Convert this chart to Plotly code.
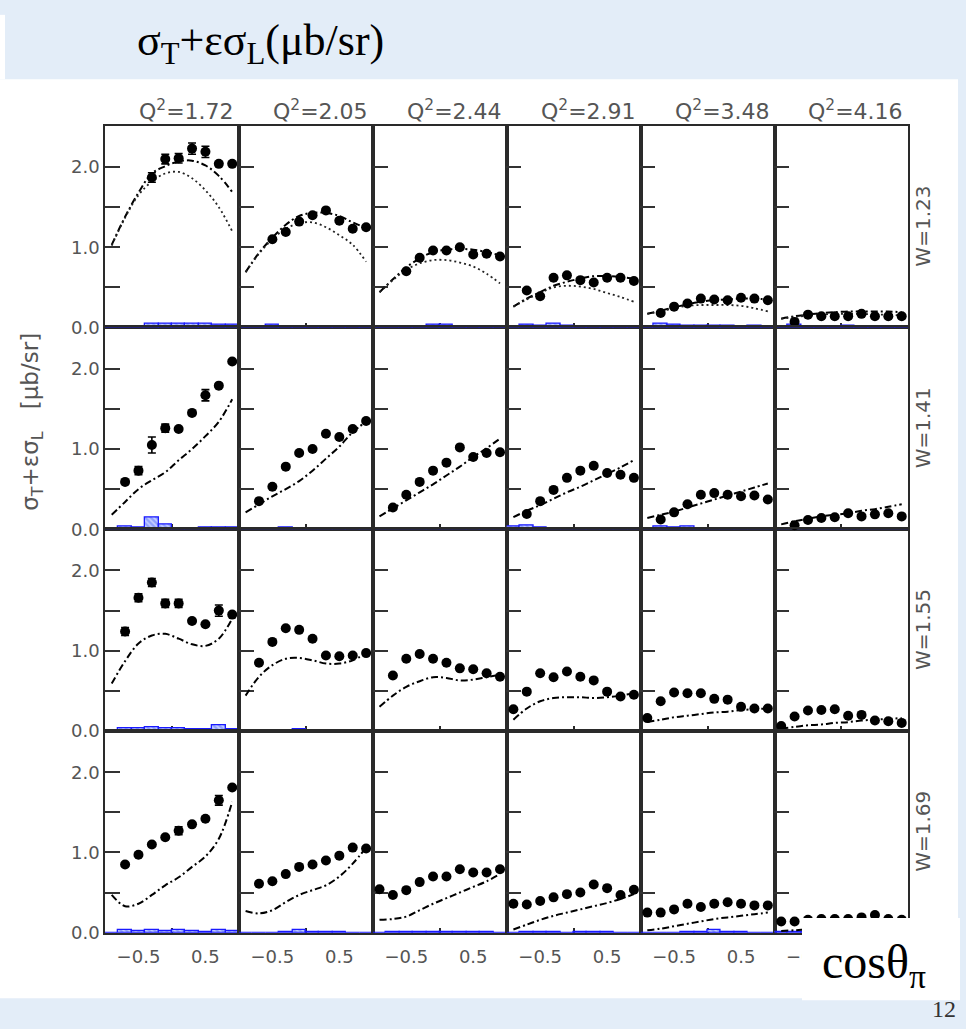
import plotly.graph_objects as go
from plotly.subplots import make_subplots

# ---------------- data ----------------
Q2_LABELS = ["1.72", "2.05", "2.44", "2.91", "3.48", "4.16"]
W_LABELS = ["1.23", "1.41", "1.55", "1.69"]
COS_BINS = [-0.9, -0.7, -0.5, -0.3, -0.1, 0.1, 0.3, 0.5, 0.7, 0.9]
N = None

# W = 1.23
pts_w123 = [
    [N, N, N, 1.87, 2.10, 2.11, 2.23, 2.19, 2.04, 2.04],
    [N, N, 1.10, 1.19, 1.32, 1.40, 1.46, 1.33, 1.23, 1.25],
    [N, N, 0.70, 0.87, 0.96, 0.96, 1.00, 0.91, 0.92, 0.885],
    [N, 0.46, 0.39, 0.62, 0.65, 0.59, 0.56, 0.62, 0.62, 0.58],
    [N, 0.18, 0.26, 0.30, 0.36, 0.35, 0.34, 0.37, 0.36, 0.34],
    [N, 0.07, 0.16, 0.14, 0.14, 0.14, 0.17, 0.14, 0.14, 0.14],
]
err_w123 = [
    [0, 0, 0, 0.06, 0.06, 0.06, 0.07, 0.07, 0, 0],
    [0] * 10, [0] * 10, [0] * 10, [0] * 10, [0] * 10,
]
modelA_w123 = [
    [1.03, 1.38, 1.68, 1.92, 2.01, 2.07, 2.08, 2.02, 1.89, 1.69],
    [0.69, 0.93, 1.12, 1.28, 1.39, 1.43, 1.43, 1.39, 1.31, 1.24],
    [0.44, 0.60, 0.75, 0.86, 0.94, 0.97, 0.98, 0.97, 0.94, 0.90],
    [0.26, 0.36, 0.44, 0.52, 0.57, 0.61, 0.64, 0.64, 0.63, 0.61],
    [0.17, 0.21, 0.25, 0.29, 0.32, 0.34, 0.35, 0.36, 0.36, 0.35],
    [0.11, 0.14, 0.16, 0.18, 0.19, 0.20, 0.20, 0.20, 0.20, 0.19],
]
modelB_w123 = [
    [1.02, 1.37, 1.65, 1.82, 1.92, 1.94, 1.86, 1.71, 1.50, 1.20],
    [0.69, 0.92, 1.10, 1.23, 1.30, 1.31, 1.25, 1.15, 1.03, 0.82],
    [0.44, 0.59, 0.72, 0.80, 0.84, 0.84, 0.81, 0.76, 0.67, 0.55],
    [0.26, 0.35, 0.43, 0.50, 0.52, 0.51, 0.48, 0.43, 0.38, 0.32],
    [0.17, 0.20, 0.24, 0.27, 0.28, 0.28, 0.28, 0.27, 0.24, 0.20],
    [0.11, 0.13, 0.15, 0.16, 0.17, 0.17, 0.17, 0.16, 0.16, 0.15],
]
sys_w123 = [
    [0, 0, 0, 0.05, 0.05, 0.05, 0.05, 0.05, 0.04, 0.04],
    [0, 0, 0.04, 0.01, 0.01, 0.01, 0.01, 0.01, 0.01, 0.01],
    [0, 0, 0.01, 0.01, 0.03, 0.03, 0.01, 0.01, 0.01, 0.01],
    [0, 0.04, 0.02, 0.05, 0.02, 0.01, 0.01, 0.01, 0.01, 0.01],
    [0, 0.05, 0.04, 0.02, 0.02, 0.02, 0.02, 0.01, 0.02, 0.01],
    [0, 0.03, 0.01, 0.01, 0.01, 0.02, 0.01, 0.01, 0.01, 0.01],
]

# W = 1.41
pts_w141 = [
    [N, 0.59, 0.73, 1.05, 1.26, 1.25, 1.45, 1.67, 1.79, 2.09],
    [N, 0.35, 0.53, 0.78, 0.95, 1.00, 1.19, 1.15, 1.25, 1.35],
    [N, 0.27, 0.43, 0.59, 0.73, 0.83, 1.02, 0.90, 0.95, 0.96],
    [N, 0.19, 0.35, 0.49, 0.64, 0.73, 0.79, 0.70, 0.68, 0.64],
    [N, 0.12, 0.21, 0.31, 0.43, 0.45, 0.43, 0.41, 0.42, 0.37],
    [N, 0.05, 0.115, 0.14, 0.15, 0.20, 0.16, 0.185, 0.20, 0.16],
]
err_w141 = [
    [0, 0, 0.05, 0.10, 0.05, 0, 0, 0.07, 0, 0],
    [0] * 10, [0] * 10, [0] * 10, [0] * 10, [0] * 10,
]
modelA_w141 = [
    [0.18, 0.34, 0.50, 0.61, 0.71, 0.86, 1.00, 1.16, 1.34, 1.62],
    [0.21, 0.31, 0.41, 0.50, 0.60, 0.73, 0.88, 1.03, 1.21, 1.34],
    [0.16, 0.26, 0.36, 0.46, 0.56, 0.67, 0.78, 0.90, 1.01, 1.13],
    [0.15, 0.23, 0.30, 0.38, 0.46, 0.53, 0.61, 0.69, 0.77, 0.86],
    [0.14, 0.18, 0.22, 0.27, 0.32, 0.37, 0.42, 0.47, 0.52, 0.57],
    [0.06, 0.10, 0.13, 0.16, 0.18, 0.20, 0.23, 0.25, 0.28, 0.31],
]
sys_w141 = [
    [0, 0.04, 0.02, 0.14, 0.06, 0.01, 0.01, 0.02, 0.02, 0.02],
    [0, 0, 0, 0.02, 0.01, 0, 0.01, 0.01, 0.01, 0.01],
    [0.01, 0, 0, 0.01, 0.01, 0.01, 0.01, 0.01, 0.01, 0.01],
    [0.03, 0.05, 0.02, 0.01, 0, 0.01, 0.01, 0.01, 0.01, 0],
    [0, 0.04, 0.02, 0.04, 0.01, 0, 0.01, 0.01, 0, 0],
    [0, 0.01, 0, 0.01, 0.01, 0.01, 0.01, 0, 0, 0],
]

# W = 1.55
pts_w155 = [
    [N, 1.24, 1.66, 1.85, 1.59, 1.59, 1.37, 1.33, 1.50, 1.45],
    [N, 0.85, 1.11, 1.28, 1.26, 1.15, 0.94, 0.93, 0.94, 0.97],
    [N, 0.69, 0.90, 0.96, 0.90, 0.85, 0.78, 0.77, 0.72, 0.675],
    [0.27, 0.49, 0.72, 0.67, 0.74, 0.675, 0.63, 0.49, 0.43, 0.45],
    [0.16, 0.37, 0.48, 0.47, 0.47, 0.40, 0.39, 0.30, 0.28, 0.28],
    [0.06, 0.18, 0.255, 0.26, 0.27, 0.19, 0.20, 0.13, 0.12, 0.10],
]
err_w155 = [
    [0, 0.05, 0.05, 0.05, 0.05, 0.05, 0, 0, 0.07, 0],
    [0] * 10, [0] * 10, [0] * 10, [0] * 10, [0] * 10,
]
modelA_w155 = [
    [0.59, 0.87, 1.09, 1.19, 1.21, 1.15, 1.08, 1.06, 1.15, 1.40],
    [0.44, 0.675, 0.82, 0.90, 0.91, 0.88, 0.84, 0.84, 0.88, 0.97],
    [0.30, 0.44, 0.55, 0.62, 0.67, 0.66, 0.63, 0.64, 0.67, 0.70],
    [0.14, 0.28, 0.37, 0.41, 0.42, 0.42, 0.41, 0.42, 0.44, 0.47],
    [0.11, 0.14, 0.17, 0.19, 0.21, 0.23, 0.24, 0.26, 0.27, 0.28],
    [0.03, 0.05, 0.07, 0.08, 0.10, 0.11, 0.13, 0.14, 0.15, 0.16],
]
sys_w155 = [
    [0, 0.03, 0.04, 0.05, 0.04, 0.04, 0.02, 0.02, 0.07, 0.02],
    [0, 0.01, 0.01, 0.01, 0.02, 0.01, 0.01, 0.01, 0, 0],
    [0, 0.01, 0.01, 0.01, 0.01, 0.01, 0.01, 0.01, 0.01, 0.01],
    [0.01, 0.01, 0.01, 0.01, 0.01, 0.01, 0.01, 0.01, 0.01, 0.01],
    [0.01, 0.01, 0.01, 0.01, 0.01, 0.01, 0.01, 0.01, 0.01, 0.01],
    [0.01, 0.01, 0.01, 0.01, 0.01, 0.01, 0.01, 0.01, 0.01, 0.01],
]

# W = 1.69
pts_w169 = [
    [N, 0.85, 0.97, 1.10, 1.19, 1.27, 1.35, 1.42, 1.65, 1.81],
    [N, 0.61, 0.64, 0.73, 0.82, 0.85, 0.90, 0.96, 1.06, 1.05],
    [0.54, 0.47, 0.53, 0.63, 0.70, 0.70, 0.79, 0.75, 0.75, 0.79],
    [0.36, 0.35, 0.395, 0.44, 0.48, 0.50, 0.60, 0.555, 0.47, 0.535],
    [0.25, 0.25, 0.29, 0.36, 0.32, 0.36, 0.38, 0.36, 0.34, 0.34],
    [0.14, 0.14, 0.16, 0.17, 0.17, 0.17, 0.19, 0.22, 0.17, 0.16],
]
err_w169 = [
    [0, 0, 0, 0, 0, 0.05, 0, 0, 0.06, 0],
    [0] * 10, [0] * 10, [0] * 10, [0] * 10, [0] * 10,
]
modelA_w169 = [
    [0.47, 0.33, 0.36, 0.47, 0.59, 0.69, 0.82, 0.95, 1.17, 1.63],
    [0.27, 0.24, 0.28, 0.38, 0.47, 0.53, 0.59, 0.70, 0.86, 1.06],
    [0.16, 0.17, 0.20, 0.28, 0.36, 0.43, 0.50, 0.57, 0.64, 0.73],
    [0.04, 0.10, 0.16, 0.21, 0.25, 0.29, 0.33, 0.37, 0.42, 0.48],
    [0.03, 0.05, 0.08, 0.11, 0.14, 0.17, 0.19, 0.21, 0.23, 0.25],
    [0.02, 0.03, 0.04, 0.05, 0.06, 0.07, 0.08, 0.09, 0.10, 0.11],
]
sys_w169 = [
    [0, 0.03, 0.02, 0.03, 0.02, 0.03, 0.02, 0.01, 0.04, 0.02],
    [0, 0, 0, 0.01, 0.03, 0.01, 0.01, 0.01, 0, 0],
    [0, 0.01, 0.01, 0.01, 0.01, 0.01, 0.01, 0.01, 0.01, 0],
    [0, 0.01, 0.01, 0.01, 0, 0.01, 0.01, 0.01, 0, 0],
    [0, 0, 0, 0.01, 0.01, 0.03, 0.01, 0.01, 0, 0],
    [0.01, 0.01, 0.01, 0.01, 0.01, 0.01, 0.01, 0.01, 0.01, 0.01],
]

ROWS = [
    (pts_w123, err_w123, modelA_w123, modelB_w123, sys_w123),
    (pts_w141, err_w141, modelA_w141, None, sys_w141),
    (pts_w155, err_w155, modelA_w155, None, sys_w155),
    (pts_w169, err_w169, modelA_w169, None, sys_w169),
]

# ---------------- layout geometry ----------------
FW, FH = 966, 1029
X0, CW = 105.0, 133.9
Y0, RH = 127.0, 203.7
YMAX = RH / 81.0
FRAME = "#2a2a2a"
LABEL = "#555555"
BG = "#e3edf8"

fig = make_subplots(rows=4, cols=6, horizontal_spacing=0, vertical_spacing=0)

for r, (pts, errs, mA, mB, sysv) in enumerate(ROWS):
    for c in range(6):
        R, C = r + 1, c + 1
        fig.add_trace(go.Bar(
            x=COS_BINS, y=sysv[c], width=0.2, base=0,
            marker=dict(color="#8fa0ff", line=dict(color="#1a1aff", width=1.3),
                        pattern=dict(shape="\\", fgcolor="white", size=4, solidity=0.4)),
            showlegend=False, hoverinfo="skip"), row=R, col=C)
        fig.add_trace(go.Scatter(
            x=COS_BINS, y=mA[c], mode="lines", line=dict(color="black", width=2,
            dash="7px,3px,2px,3px", shape="spline"),
            showlegend=False, cliponaxis=False), row=R, col=C)
        if mB is not None:
            fig.add_trace(go.Scatter(
                x=COS_BINS, y=mB[c], mode="lines", line=dict(color="#222", width=1.8,
                dash="2px,3px", shape="spline"),
                showlegend=False, cliponaxis=False), row=R, col=C)
        e = [v if v else None for v in errs[c]]
        fig.add_trace(go.Scatter(
            x=COS_BINS, y=pts[c], mode="markers",
            marker=dict(color="black", size=10),
            error_y=dict(type="data", array=e, visible=True, color="black",
                         thickness=1.6, width=4),
            showlegend=False, cliponaxis=False), row=R, col=C)

        fig.update_xaxes(
            row=R, col=C,
            domain=[(X0 + c * CW) / FW, (X0 + (c + 1) * CW) / FW],
            range=[-1, 1], showgrid=False, zeroline=False,
            showline=True, mirror=True, linecolor=FRAME, linewidth=1.5,
            tickvals=[-0.5, 0.5], ticktext=["−0.5", "0.5"], ticks="",
            showticklabels=(r == 3), ticklabelstandoff=7,
            tickfont=dict(family="DejaVu Sans", size=18, color=LABEL),
            minor=dict(tickvals=[0], ticks="inside", ticklen=5, tickcolor=FRAME, tickwidth=1.5),
            layer="below traces")
        fig.update_yaxes(
            row=R, col=C,
            domain=[1 - (Y0 + (r + 1) * RH) / FH, 1 - (Y0 + r * RH) / FH],
            range=[0, YMAX], showgrid=False, zeroline=False,
            showline=True, mirror=True, linecolor=FRAME, linewidth=1.5,
            tickvals=[0, 0.5, 1.0, 1.5, 2.0], ticktext=["0.0", "", "1.0", "", "2.0"],
            ticks="inside", ticklen=15, tickwidth=1.5, tickcolor="#333",
            showticklabels=(c == 0),
            tickfont=dict(family="DejaVu Sans", size=18, color=LABEL),
            layer="below traces")


def px(x):
    return x / FW


def py(y):
    return 1 - y / FH


annotations = []
annotations.append(dict(
    text="σ<sub>T</sub>+εσ<sub>L</sub>(μb/sr)", x=px(135), y=py(44),
    xref="paper", yref="paper", xanchor="left", yanchor="middle", showarrow=False,
    font=dict(family="Liberation Serif", size=44, color="black")))
for c, q in enumerate(Q2_LABELS):
    annotations.append(dict(
        text="Q<sup>2</sup>=" + q, x=px(X0 + (c + 1) * CW - 3), y=py(111),
        xref="paper", yref="paper", xanchor="right", yanchor="middle", showarrow=False,
        font=dict(family="DejaVu Sans", size=22, color=LABEL)))
for r, w in enumerate(W_LABELS):
    annotations.append(dict(
        text="W=" + w, x=px(923), y=py(Y0 + (r + 0.5) * RH), textangle=-90,
        xref="paper", yref="paper", xanchor="center", yanchor="middle", showarrow=False,
        font=dict(family="DejaVu Sans", size=20, color=LABEL)))
annotations.append(dict(
    text="σ<sub>T</sub>+εσ<sub>L</sub>\u00a0\u00a0\u00a0[μb/sr]", x=px(32), y=py(426),
    textangle=-90,
    xref="paper", yref="paper", xanchor="center", yanchor="middle", showarrow=False,
    font=dict(family="DejaVu Sans", size=23, color=LABEL)))
annotations.append(dict(
    text="cosθ<sub>π</sub>", x=px(874), y=py(974),
    xref="paper", yref="paper", xanchor="center", yanchor="middle", showarrow=False,
    font=dict(family="Liberation Serif", size=48, color="black")))
annotations.append(dict(
    text="12", x=px(944), y=py(1019),
    xref="paper", yref="paper", xanchor="center", yanchor="middle", showarrow=False,
    font=dict(family="Liberation Serif", size=24, color="#333")))

shapes = [
    dict(type="rect", xref="paper", yref="paper", x0=0, x1=px(958), y0=py(1008), y1=py(80),
         fillcolor="white", line=dict(width=0), layer="below"),
    dict(type="rect", xref="paper", yref="paper", x0=0, x1=px(5), y0=py(80), y1=py(15),
         fillcolor="white", line=dict(width=0), layer="below"),
    dict(type="rect", xref="paper", yref="paper", x0=px(802), x1=px(960), y0=py(1010), y1=py(927),
         fillcolor="white", line=dict(width=0), layer="above"),
]

fig.update_layout(
    width=FW, height=FH, margin=dict(l=0, r=0, t=0, b=0),
    paper_bgcolor=BG, plot_bgcolor="white",
    annotations=annotations, shapes=shapes, bargap=0, showlegend=False,
)

fig.write_html(
    "out.html",
    config={"displayModeBar": False},
    post_script="document.body.style.margin='0px';document.body.style.overflow='hidden';"
                "document.body.style.background='" + BG + "';",
)
